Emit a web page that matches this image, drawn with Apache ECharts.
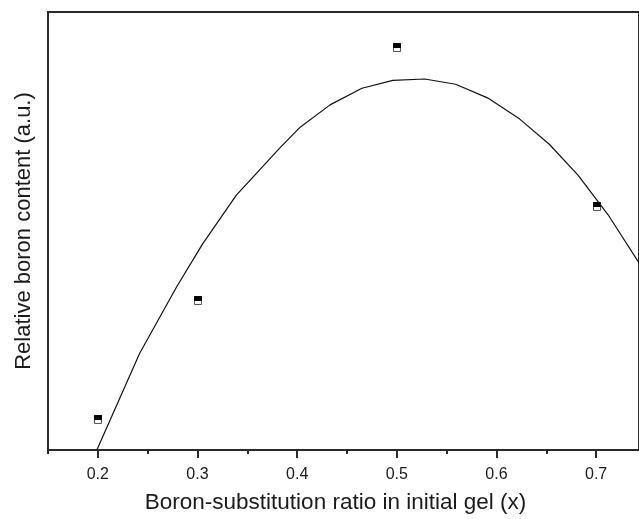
<!DOCTYPE html>
<html>
<head>
<meta charset="utf-8">
<script src="https://cdn.jsdelivr.net/npm/echarts@6/dist/echarts.min.js"></script>
<style>
  html, body { margin: 0; padding: 0; background: #fff; }
  #chart { width: 639px; height: 519px; }
</style>
</head>
<body>
<div id="chart"></div>
<script>
// Measured boron content at each substitution ratio (relative units)
const ratioX = [0.2, 0.3, 0.5, 0.7];
const boronY = [7.0, 34.3, 91.9, 55.8];

// Fitted trend curve vertices
const fitX = [0.199, 0.242, 0.279, 0.305, 0.339, 0.382, 0.403, 0.433, 0.465, 0.496,
              0.528, 0.559, 0.591, 0.623, 0.653, 0.682, 0.712, 0.749];
const fitY = [0.0, 22.1, 37.2, 47.0, 58.2, 68.8, 73.7, 78.8, 82.6, 84.4,
              84.7, 83.5, 80.4, 75.6, 69.8, 62.7, 53.7, 40.6];

// Axis ticks
const majorTicks = [0.2, 0.3, 0.4, 0.5, 0.6, 0.7];
const minorTicks = [0.15, 0.25, 0.35, 0.45, 0.55, 0.65];

const FONT = '"Liberation Sans", Arial, Helvetica, sans-serif';
const INK = '#1a1a1a';
const FRAME = '#2a2a2a';

const X_MIN = 0.15, X_MAX = 0.743;

const chart = echarts.init(document.getElementById('chart'), null, { renderer: 'canvas' });

chart.setOption({
  animation: false,
  backgroundColor: '#fff',
  grid: {
    left: 48, top: 12, right: 0, bottom: 64,
    show: true, borderColor: FRAME, borderWidth: 2,
    containLabel: false
  },
  xAxis: [
    {
      type: 'value', min: X_MIN, max: X_MAX,
      position: 'bottom',
      splitLine: { show: false },
      axisLine: { show: true, lineStyle: { color: FRAME, width: 2 } },
      axisTick: { show: true, customValues: majorTicks, length: 8, lineStyle: { color: FRAME, width: 2 } },
      axisLabel: {
        customValues: majorTicks, margin: 17,
        fontFamily: FONT, fontSize: 16, color: INK,
        formatter: v => v.toFixed(1)
      },
      name: 'Boron-substitution ratio in initial gel (x)',
      nameLocation: 'middle', nameGap: 41,
      nameTextStyle: { fontFamily: FONT, fontSize: 22.5, color: INK, padding: [0, 16, 0, 0] }
    },
    {
      type: 'value', min: X_MIN, max: X_MAX,
      position: 'bottom', gridIndex: 0,
      splitLine: { show: false },
      axisLine: { show: false },
      axisTick: { show: true, customValues: minorTicks, length: 4, lineStyle: { color: FRAME, width: 2 } },
      axisLabel: { show: false }
    }
  ],
  yAxis: {
    type: 'value', min: 0, max: 100,
    splitLine: { show: false },
    axisLine: { show: true, lineStyle: { color: FRAME, width: 2 } },
    axisTick: { show: false },
    axisLabel: { show: false },
    name: 'Relative boron content (a.u.)',
    nameLocation: 'middle', nameGap: 13,
    nameTextStyle: { fontFamily: FONT, fontSize: 22, color: INK }
  },
  series: [
    {
      type: 'line',
      data: fitX.map((x, i) => [x, fitY[i]]),
      showSymbol: false, smooth: false,
      lineStyle: { color: '#111', width: 1.2 },
      z: 2
    },
    {
      // half-filled square markers
      type: 'custom',
      data: ratioX.map((x, i) => [x, boronY[i]]),
      renderItem: function (params, api) {
        const p = api.coord([api.value(0), api.value(1)]);
        const w = 7, h = 8;
        const x0 = Math.round(p[0] - w / 2) + 0.5;
        const y0 = Math.round(p[1] - h / 2) + 0.5;
        return {
          type: 'group',
          children: [
            { type: 'rect', shape: { x: x0, y: y0, width: w, height: h },
              style: { fill: '#fff', stroke: '#555', lineWidth: 1 } },
            { type: 'rect', shape: { x: x0, y: y0, width: w, height: h / 2 },
              style: { fill: '#000', stroke: '#000', lineWidth: 1 } }
          ]
        };
      },
      z: 3
    }
  ]
});
</script>
</body>
</html>
